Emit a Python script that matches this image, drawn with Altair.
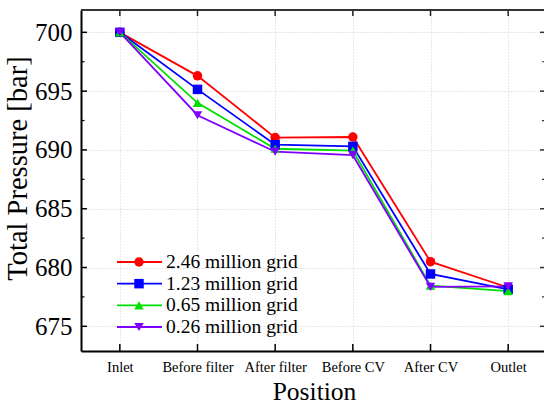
import altair as alt
import pandas as pd

# Measurement stations along the flow path
positions = ["Inlet", "Before filter", "After filter", "Before CV", "After CV", "Outlet"]

# Mesh resolutions compared in the grid-independence study
grids = ["2.46 million grid", "1.23 million grid", "0.65 million grid", "0.26 million grid"]

# Total pressure [bar] at each station
p_246 = [700.0, 696.3, 691.05, 691.1, 680.5, 678.3]
p_123 = [700.0, 695.15, 690.45, 690.3, 679.45, 678.15]
p_065 = [700.0, 694.0, 690.1, 689.95, 678.45, 678.0]
p_026 = [700.0, 692.95, 689.85, 689.55, 678.35, 678.4]

colors = ["#ff0000", "#0000ff", "#00dd00", "#8000ff"]
shapes = ["circle", "square", "triangle-up", "triangle-down"]

y_major = [675, 680, 685, 690, 695, 700]
y_minor = [677.5, 682.5, 687.5, 692.5, 697.5]

rows = []
for g, vals in zip(grids, [p_246, p_123, p_065, p_026]):
    for pos, v in zip(positions, vals):
        rows.append({"grid": g, "position": pos, "pressure": v})
df = pd.DataFrame(rows)

W, H = 463, 341
FONT = "Liberation Serif"
GRID_COLOR = "#cfcfcf"

x_scale = alt.Scale(type="point", domain=positions, range=[0, 466], padding=0.5)
y_scale = alt.Scale(domain=[672.9, 701.9], nice=False, zero=False)
color_scale = alt.Scale(domain=grids, range=colors)
shape_scale = alt.Scale(domain=grids, range=shapes)

x_axis = alt.Axis(
    title="Position", ticks=False, grid=True, gridColor=GRID_COLOR, gridDash=[1, 2],
    domainColor="black", domainWidth=2, labelFont=FONT, labelFontSize=14.5,
    labelColor="black", labelPadding=9, labelAngle=0, titleFont=FONT,
    titleFontSize=25.5, titleFontWeight="normal", titleColor="black",
    titleY=48, titleBaseline="alphabetic",
)
y_axis = alt.Axis(
    title="Total Pressure [bar]", values=y_major, ticks=False, grid=True,
    gridColor=GRID_COLOR, gridDash=[1, 2], domainColor="black", domainWidth=2,
    labelFont=FONT, labelFontSize=25, labelColor="black", labelPadding=9,
    titleFont=FONT, titleFontSize=28.5, titleFontWeight="normal", titleColor="black",
    titlePadding=2, titleY=158,
)


def xenc(field="position"):
    return alt.X(f"{field}:N", scale=x_scale, sort=positions, axis=x_axis)


def yenc(field="pressure"):
    return alt.Y(f"{field}:Q", scale=y_scale, axis=y_axis)


color_enc = alt.Color("grid:N", scale=color_scale, legend=None)
shape_enc = alt.Shape("grid:N", scale=shape_scale, legend=None)

lines = alt.Chart(df).mark_line(strokeWidth=1.8).encode(
    x=xenc(), y=yenc(), color=color_enc, detail="grid:N"
)
points = alt.Chart(df).mark_point(filled=True, size=90, opacity=1).encode(
    x=xenc(), y=yenc(), color=color_enc, shape=shape_enc
)

# Frame: inward ticks on all four sides plus the top border
major_df = pd.DataFrame({"pressure": y_major})
minor_df = pd.DataFrame({"pressure": y_minor})
pos_df = pd.DataFrame({"position": positions})

left_major = alt.Chart(major_df).mark_rule(color="black", strokeWidth=1.5).encode(
    y=yenc(), x=alt.value(0), x2=alt.value(6)
)
left_minor = alt.Chart(minor_df).mark_rule(color="black", strokeWidth=1.2).encode(
    y=yenc(), x=alt.value(0), x2=alt.value(3.5)
)
right_major = alt.Chart(major_df).mark_rule(color="#333333", strokeWidth=1.5).encode(
    y=yenc(), x=alt.value(W - 4), x2=alt.value(W)
)
right_minor = alt.Chart(minor_df).mark_rule(color="#333333", strokeWidth=1.2).encode(
    y=yenc(), x=alt.value(W - 2), x2=alt.value(W)
)
top_ticks = alt.Chart(pos_df).mark_rule(color="#222222", strokeWidth=1.5).encode(
    x=xenc(), y=alt.value(0), y2=alt.value(6)
)
bottom_ticks = alt.Chart(pos_df).mark_rule(color="black", strokeWidth=1.5).encode(
    x=xenc(), y=alt.value(H), y2=alt.value(H - 7)
)
top_border = alt.Chart(pd.DataFrame({"k": [0]})).mark_rule(
    color="#333333", strokeWidth=2
).encode(x=alt.value(0), x2=alt.value(W), y=alt.value(0))

main = alt.layer(
    lines, points, left_major, left_minor, right_major, right_minor,
    top_ticks, bottom_ticks, top_border,
)

# Legend rows: line with centred marker and label
leg_df = pd.DataFrame({"grid": grids})
leg_y = alt.Y(
    "grid:N", sort=grids, axis=None,
    scale=alt.Scale(type="point", domain=grids, range=[252, 317], padding=0),
)
leg_line = alt.Chart(leg_df).mark_rule(strokeWidth=1.8).encode(
    y=leg_y, x=alt.value(36), x2=alt.value(81), color=color_enc
)
leg_pt = alt.Chart(leg_df).mark_point(filled=True, size=90, opacity=1).encode(
    y=leg_y, x=alt.value(58), color=color_enc, shape=shape_enc
)
leg_txt = alt.Chart(leg_df).mark_text(
    align="left", baseline="middle", font=FONT, fontSize=19.5, color="black"
).encode(y=leg_y, x=alt.value(85), text="grid:N")
legend = alt.layer(leg_line, leg_pt, leg_txt)

chart = (
    alt.layer(main, legend)
    .resolve_scale(y="independent")
    .properties(
        width=W, height=H,
        autosize=alt.AutoSizeParams(type="none"),
        padding={"left": 81, "top": 10, "right": 0, "bottom": 54},
        background="white",
    )
    .configure_view(strokeWidth=0)
)

chart.save("out.html", embed_options={"renderer": "svg", "actions": False})
